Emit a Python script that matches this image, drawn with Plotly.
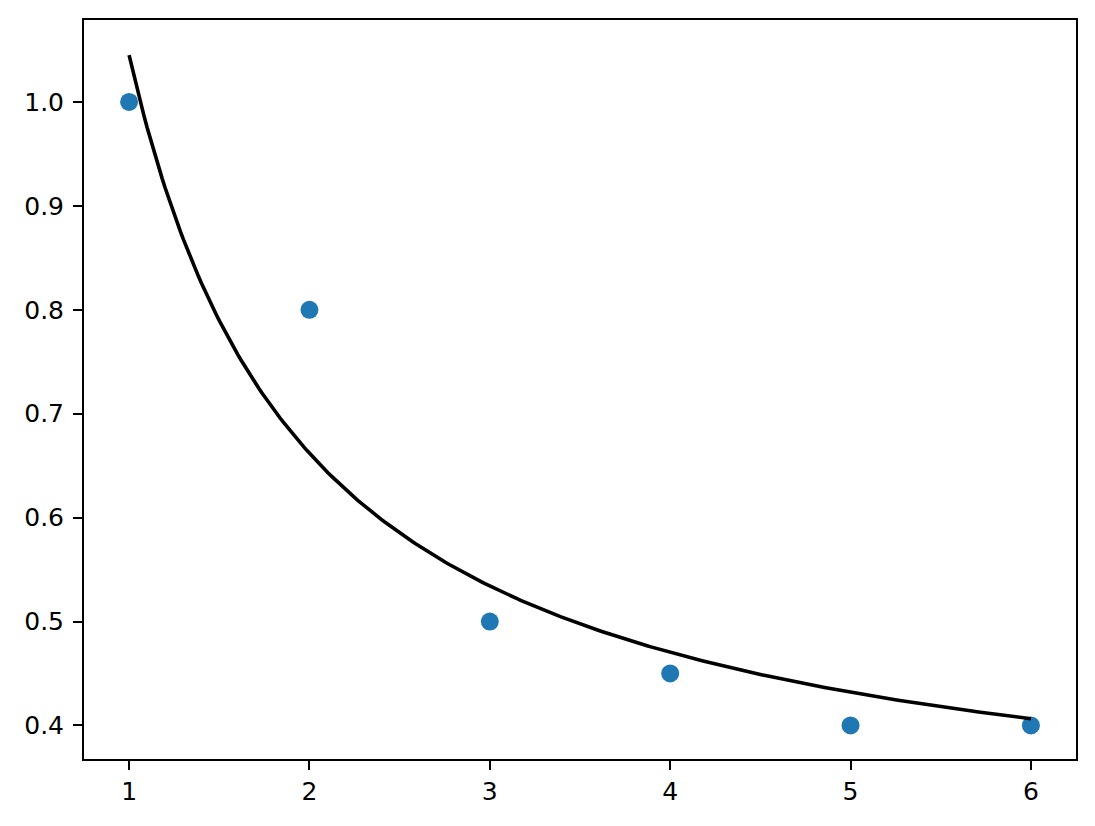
import numpy as np
import plotly.graph_objects as go

# measured points
x_pts = [1, 2, 3, 4, 5, 6]
y_pts = [1.0, 0.8, 0.5, 0.45, 0.4, 0.4]

x_ticks = [1, 2, 3, 4, 5, 6]
y_ticks = [0.4, 0.5, 0.6, 0.7, 0.8, 0.9, 1.0]

# least squares fit y = a + b/x on the points
b, a = np.polyfit(1.0 / np.array(x_pts), np.array(y_pts), 1)
x_fit = np.linspace(min(x_pts), max(x_pts), 300)
y_fit = a + b / x_fit

fig = go.Figure()
fig.add_trace(go.Scatter(x=x_pts, y=y_pts, mode='markers',
                         marker=dict(color='#1f77b4', size=18, line=dict(width=0)),
                         showlegend=False))
fig.add_trace(go.Scatter(x=x_fit, y=y_fit, mode='lines',
                         line=dict(color='black', width=3.6),
                         showlegend=False))

axisStyle = dict(showline=True, linecolor='black', linewidth=2, mirror=True,
                 ticks='outside', ticklen=9, tickwidth=2, tickcolor='black',
                 showgrid=False, zeroline=False,
                 tickfont=dict(family='DejaVu Sans', size=25, color='black'))

# page body adds an 8px offset, so the figure is a bit smaller than the window
fig.update_layout(
    width=1087, height=818,
    margin=dict(l=76, r=19, t=10, b=67),
    plot_bgcolor='white', paper_bgcolor='white',
    xaxis=dict(range=[0.75, 6.25], tickvals=x_ticks, ticklabelstandoff=0, **axisStyle),
    yaxis=dict(range=[0.3677, 1.0789], tickvals=y_ticks, tickformat='.1f',
               ticklabelstandoff=4, **axisStyle),
)

fig.write_html("out.html")
